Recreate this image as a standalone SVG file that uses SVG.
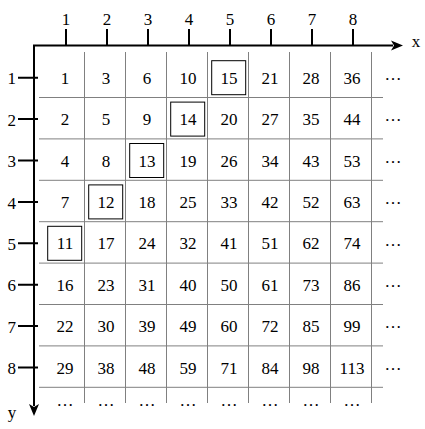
<svg xmlns="http://www.w3.org/2000/svg" width="425" height="429" viewBox="0 0 425 429">
<style>
text{font-family:"Liberation Serif","Times New Roman",serif;font-size:17px;fill:#000}
.c{text-anchor:middle}
.r{text-anchor:end}
.ax{stroke:#000;stroke-width:2;fill:none}
.g{stroke:#808080;stroke-width:1;fill:none}
.b{stroke:#000;stroke-width:1;fill:none}
</style>
<rect width="425" height="429" fill="#fff"/>
<g id="grid">
<path class="g" d="M39 97.5H383M39 138.9H383M39 180.3H383M39 221.7H383M39 263.1H383M39 304.5H383M39 345.9H383M39 387.3H383"/>
<path class="g" d="M84.5 52V403M125.5 52V403M166.5 52V403M207.5 52V403M248.5 52V403M289.5 52V403M330.5 52V403M371.5 52V403"/>
</g>
<g id="axes">
<path class="ax" d="M34 45.5H393M34 44.5V406"/>
<polygon points="403,45.5 391,40.5 394,45.5 391,50.5" fill="#000"/>
<polygon points="34,416 29,404 34,407 39,404" fill="#000"/>
<path class="ax" d="M66 29V45.5M107 29V45.5M148 29V45.5M189 29V45.5M230 29V45.5M271 29V45.5M312 29V45.5M353 29V45.5"/>
<path class="ax" d="M18 77.7H38M18 119.1H38M18 160.5H38M18 201.9H38M18 243.3H38M18 284.7H38M18 326.1H38M18 367.5H38"/>
<text class="c" x="66" y="25">1</text><text class="c" x="107" y="25">2</text><text class="c" x="148" y="25">3</text><text class="c" x="189" y="25">4</text><text class="c" x="230" y="25">5</text><text class="c" x="271" y="25">6</text><text class="c" x="312" y="25">7</text><text class="c" x="353" y="25">8</text>
<text class="r" x="16" y="84">1</text><text class="r" x="16" y="125.5">2</text><text class="r" x="16" y="167">3</text><text class="r" x="16" y="208.5">4</text><text class="r" x="16" y="250">5</text><text class="r" x="16" y="291">6</text><text class="r" x="16" y="332.5">7</text><text class="r" x="16" y="374">8</text>
<text class="c" x="416" y="47">x</text>
<text class="c" x="12" y="418">y</text>
</g>
<g id="boxes">
<rect class="b" x="211.7" y="60.7" width="34" height="34"/>
<rect class="b" x="170.7" y="102.1" width="34" height="34"/>
<rect class="b" x="129.7" y="143.5" width="34" height="34"/>
<rect class="b" x="88.7" y="184.9" width="34" height="34"/>
<rect class="b" x="47.7" y="226.3" width="34" height="34"/>
</g>
<g id="cells">
<g id="row1"><text class="c" x="65" y="83.7">1</text><text class="c" x="106" y="83.7">3</text><text class="c" x="147" y="83.7">6</text><text class="c" x="188" y="83.7">10</text><text class="c" x="229" y="83.7">15</text><text class="c" x="270" y="83.7">21</text><text class="c" x="311" y="83.7">28</text><text class="c" x="352" y="83.7">36</text><text class="c" x="393" y="80">…</text></g>
<g id="row2"><text class="c" x="65" y="125.1">2</text><text class="c" x="106" y="125.1">5</text><text class="c" x="147" y="125.1">9</text><text class="c" x="188" y="125.1">14</text><text class="c" x="229" y="125.1">20</text><text class="c" x="270" y="125.1">27</text><text class="c" x="311" y="125.1">35</text><text class="c" x="352" y="125.1">44</text><text class="c" x="393" y="121.4">…</text></g>
<g id="row3"><text class="c" x="65" y="166.5">4</text><text class="c" x="106" y="166.5">8</text><text class="c" x="147" y="166.5">13</text><text class="c" x="188" y="166.5">19</text><text class="c" x="229" y="166.5">26</text><text class="c" x="270" y="166.5">34</text><text class="c" x="311" y="166.5">43</text><text class="c" x="352" y="166.5">53</text><text class="c" x="393" y="162.8">…</text></g>
<g id="row4"><text class="c" x="65" y="207.9">7</text><text class="c" x="106" y="207.9">12</text><text class="c" x="147" y="207.9">18</text><text class="c" x="188" y="207.9">25</text><text class="c" x="229" y="207.9">33</text><text class="c" x="270" y="207.9">42</text><text class="c" x="311" y="207.9">52</text><text class="c" x="352" y="207.9">63</text><text class="c" x="393" y="204.2">…</text></g>
<g id="row5"><text class="c" x="65" y="249.3">11</text><text class="c" x="106" y="249.3">17</text><text class="c" x="147" y="249.3">24</text><text class="c" x="188" y="249.3">32</text><text class="c" x="229" y="249.3">41</text><text class="c" x="270" y="249.3">51</text><text class="c" x="311" y="249.3">62</text><text class="c" x="352" y="249.3">74</text><text class="c" x="393" y="245.6">…</text></g>
<g id="row6"><text class="c" x="65" y="290.7">16</text><text class="c" x="106" y="290.7">23</text><text class="c" x="147" y="290.7">31</text><text class="c" x="188" y="290.7">40</text><text class="c" x="229" y="290.7">50</text><text class="c" x="270" y="290.7">61</text><text class="c" x="311" y="290.7">73</text><text class="c" x="352" y="290.7">86</text><text class="c" x="393" y="287">…</text></g>
<g id="row7"><text class="c" x="65" y="332.1">22</text><text class="c" x="106" y="332.1">30</text><text class="c" x="147" y="332.1">39</text><text class="c" x="188" y="332.1">49</text><text class="c" x="229" y="332.1">60</text><text class="c" x="270" y="332.1">72</text><text class="c" x="311" y="332.1">85</text><text class="c" x="352" y="332.1">99</text><text class="c" x="393" y="328.4">…</text></g>
<g id="row8"><text class="c" x="65" y="373.5">29</text><text class="c" x="106" y="373.5">38</text><text class="c" x="147" y="373.5">48</text><text class="c" x="188" y="373.5">59</text><text class="c" x="229" y="373.5">71</text><text class="c" x="270" y="373.5">84</text><text class="c" x="311" y="373.5">98</text><text class="c" x="352" y="373.5">113</text><text class="c" x="393" y="369.8">…</text></g>
<g id="row9"><text class="c" x="65" y="406">…</text><text class="c" x="106" y="406">…</text><text class="c" x="147" y="406">…</text><text class="c" x="188" y="406">…</text><text class="c" x="229" y="406">…</text><text class="c" x="270" y="406">…</text><text class="c" x="311" y="406">…</text><text class="c" x="352" y="406">…</text></g>
</g>
</svg>
